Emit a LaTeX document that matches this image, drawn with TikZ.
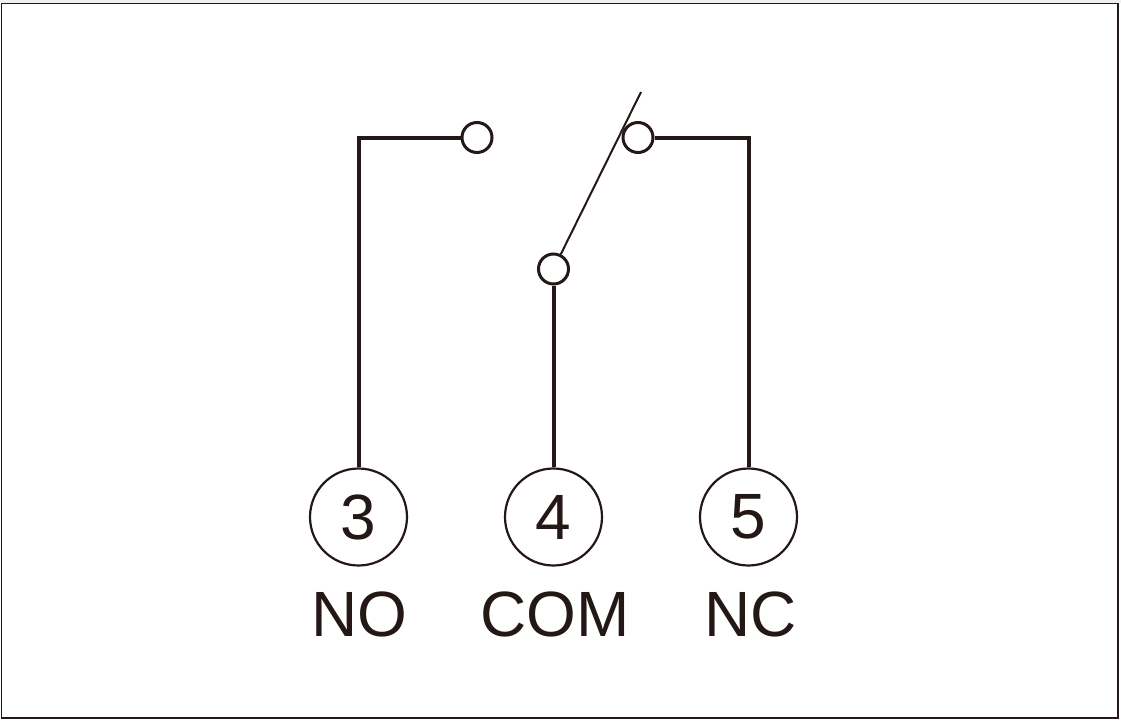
\documentclass[tikz,border=0pt]{standalone}
\usepackage{fontspec}
\setmainfont{Liberation Sans}
\definecolor{ink}{HTML}{231815}
\begin{document}
\begin{tikzpicture}[x=1pt,y=-1pt,
  wire/.style={draw=ink,line width=4pt},
  contact/.style={circle,draw=ink,line width=3pt,fill=white,minimum size=30pt,inner sep=0pt},
  terminal/.style={circle,draw=ink,line width=2.2pt,minimum size=97pt,inner sep=0pt,text=ink,font=\fontsize{64}{64}\selectfont},
  label/.style={text=ink,font=\fontsize{64}{64}\selectfont,inner sep=0pt}]
\useasboundingbox (0,0) rectangle (1121,720);
\fill[gray!12] (0,0) rectangle (1121,3);
\draw[ink,line width=1.5pt] (1.5,3.5) rectangle (1118,718);
% terminals
\node[terminal] (t3) at (358.5,517) {3};
\node[terminal] (t4) at (553.5,517) {4};
\node[terminal] (t5) at (748.5,517) {5};
\node[label] (l3) at (359,614) {NO};
\node[label] (l4) at (555,614) {COM};
\node[label] (l5) at (751,614) {NC};
% contacts
\node[contact] (cno) at (477,137.5) {};
\node[contact] (cnc) at (638,137.5) {};
\node[contact] (ccom) at (553.5,269) {};
\coordinate (tip) at (641,92);
% wires
\draw[wire] (cno.west) -| (t3.north);
\draw[wire] (cnc.east) -| (t5.north);
\draw[wire] (ccom.south) -- (t4.north);
\draw[ink,line width=2pt] (ccom) -- (tip);
\end{tikzpicture}
\end{document}
